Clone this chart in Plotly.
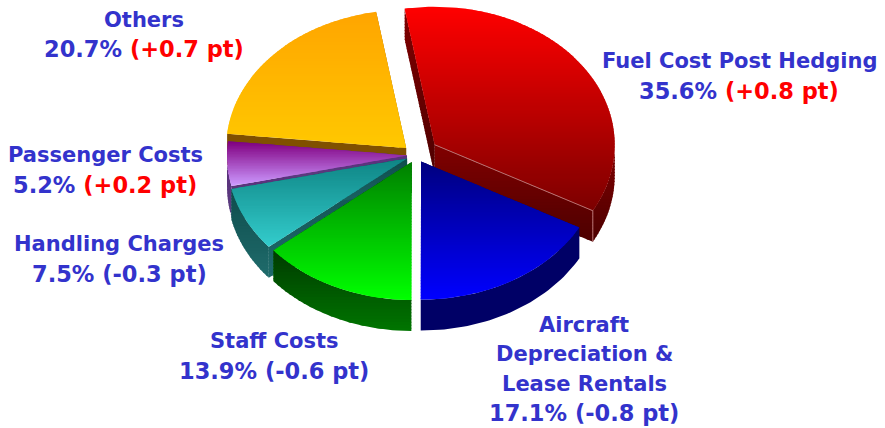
import math
import plotly.graph_objects as go

categories = ["Fuel Cost Post Hedging", "Aircraft<br>Depreciation &<br>Lease Rentals", "Staff Costs",
              "Handling Charges", "Passenger Costs", "Others"]
shares = [35.6, 17.1, 13.9, 7.5, 5.2, 20.7]
changes = [0.8, -0.8, -0.6, -0.3, 0.2, 0.7]

explode_px = [23, 10, 10, 10, 9, 13.5]
top_grad = [("#ff0000", "#7c0000"), ("#000080", "#0000ff"), ("#008000", "#00ff00"),
            ("#0f8585", "#33cccc"), ("#800080", "#cc99ff"), ("#ffa500", "#ffc800")]
wall_grad = [("#800000", "#4d0000"), ("#000066", "#000066"), ("#003c00", "#007400"),
             ("#0f4d4d", "#1f6b6b"), ("#5a2a7a", "#5a3f80"), ("#805000", "#805000")]
label_pos = [(739, 76), (584, 369), (274, 356), (119, 259), (105, 170), (144, 34.5)]
draw_order = [5, 0, 4, 3, 2, 1]

CX, CY, RX, RY, DEPTH = 416, 155, 180, 138, 31
START = -9.6
FONT = "DejaVu Sans"
NAME_SIZE = 21
VALUE_SIZE = 22.5
LINE_H = 29.2


def hex2rgb(h):
    return [int(h[i:i + 2], 16) for i in (1, 3, 5)]


def mix(a, b, t):
    t = max(0, min(1, t))
    A, B = hex2rgb(a), hex2rgb(b)
    return "rgb(%d,%d,%d)" % tuple(round(A[i] + (B[i] - A[i]) * t) for i in range(3))


def clip_band(poly, y0, y1):
    def clip(p, keep, cross):
        out = []
        for i in range(len(p)):
            a, b = p[i], p[(i + 1) % len(p)]
            ka, kb = keep(a), keep(b)
            if ka:
                out.append(a)
            if ka != kb:
                t = (cross - a[1]) / (b[1] - a[1])
                out.append((a[0] + (b[0] - a[0]) * t, cross))
        return out
    r = clip(poly, lambda q: q[1] >= y0, y0)
    if r:
        r = clip(r, lambda q: q[1] <= y1, y1)
    return r


fig = go.Figure()


def paint(poly, c0, c1, step=1.5):
    ys = [q[1] for q in poly]
    lo, hi = min(ys), max(ys)
    if c0 == c1:
        bands = [(lo, hi, c0)]
    else:
        n = max(1, int((hi - lo) / step))
        bands = [(lo + (hi - lo) * k / n, lo + (hi - lo) * (k + 1) / n + 1, mix(c0, c1, k / max(1, n - 1)))
                 for k in range(n)]
    for y0, y1, col in bands:
        part = clip_band(poly, y0, y1)
        if len(part) < 3:
            continue
        xs = [q[0] for q in part] + [part[0][0]]
        yy = [q[1] for q in part] + [part[0][1]]
        fig.add_trace(go.Scatter(x=xs, y=yy, mode="lines", fill="toself", fillcolor=col,
                                 line=dict(width=0, color=col), hoverinfo="skip", showlegend=False))


total = sum(shares)
angles = []
a = START
for s in shares:
    angles.append((a, a + s / total * 360))
    a += s / total * 360

for i in draw_order:
    a0, a1 = angles[i]
    mid = math.radians((a0 + a1) / 2)
    ax = CX + explode_px[i] * math.sin(mid)
    ay = CY - explode_px[i] * math.cos(mid) * RY / RX

    def rim(deg, drop=0):
        t = math.radians(deg)
        return (ax + RX * math.sin(t), ay - RY * math.cos(t) + drop)

    n = max(8, int((a1 - a0) / 1.5))
    arc = [a0 + (a1 - a0) * k / n for k in range(n + 1)]
    apex, apex_d = (ax, ay), (ax, ay + DEPTH)
    # radial walls
    paint([apex, rim(a0), rim(a0, DEPTH), apex_d], *wall_grad[i], step=3)
    paint([apex, rim(a1), rim(a1, DEPTH), apex_d], *wall_grad[i], step=3)
    # outer wall, only the arc that faces the viewer
    vis = [d for d in arc if 90 <= d <= 270]
    if len(vis) > 1:
        vis = sorted(set(vis + ([90] if a0 < 90 < a1 else []) + ([270] if a0 < 270 < a1 else [])))
        wall = [rim(d) for d in vis] + [rim(d, DEPTH) for d in reversed(vis)]
        paint(wall, *wall_grad[i], step=3)
    # top face
    paint([apex] + [rim(d) for d in arc], *top_grad[i])
    if i == 0:
        e = rim(a1)
        ed = rim(a1, DEPTH)
        fig.add_trace(go.Scatter(x=[ax, e[0], ed[0]], y=[ay, e[1], ed[1]], mode="lines",
                                 line=dict(width=1, color="#b87070"), hoverinfo="skip", showlegend=False))

for cat, s, ch, (lx, ly) in zip(categories, shares, changes, label_pos):
    tail = "%+.1f pt" % ch
    if ch > 0:
        tail = '<span style="color:#ff0000">(%s)</span>' % tail
    else:
        tail = "(%s)" % tail
    rows = cat.split("<br>") + ["%.1f%% %s" % (s, tail)]
    for k, row in enumerate(rows):
        size = VALUE_SIZE if k == len(rows) - 1 else NAME_SIZE
        fig.add_annotation(x=lx, y=ly + (k - (len(rows) - 1) / 2) * LINE_H, xref="x", yref="y", text=row,
                           showarrow=False, align="center", xanchor="center", yanchor="middle",
                           font=dict(family=FONT, size=size, color="#3333cc", weight="bold"))

fig.update_layout(width=885, height=428, margin=dict(l=0, r=0, t=0, b=0), autosize=False,
                  paper_bgcolor="white", plot_bgcolor="white", showlegend=False,
                  xaxis=dict(range=[0, 885], visible=False, fixedrange=True),
                  yaxis=dict(range=[428, 0], visible=False, fixedrange=True))
fig.write_html("out.html", config={"displayModeBar": False},
               post_script="document.body.style.margin='0';document.body.style.overflow='hidden';")
